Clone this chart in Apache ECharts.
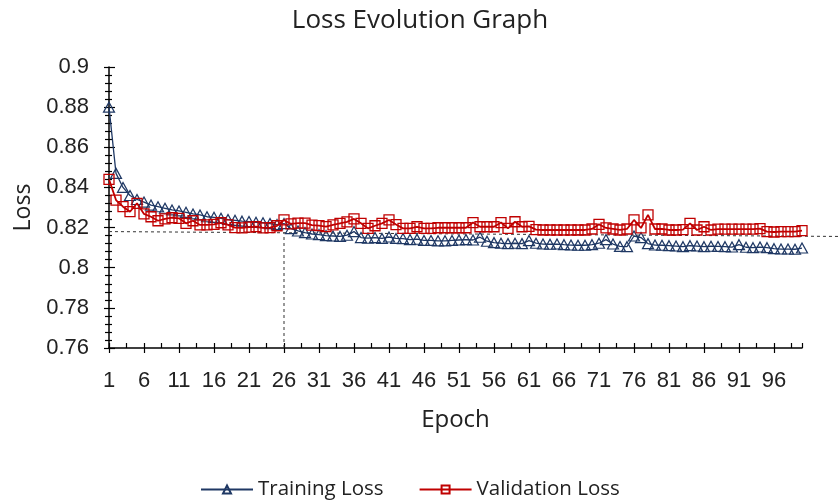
<!DOCTYPE html>
<html>
<head>
<meta charset="utf-8">
<script src="https://cdn.jsdelivr.net/npm/echarts@6/dist/echarts.min.js"></script>
<style>
  html, body { margin: 0; padding: 0; background: #fff; }
  #chart { width: 840px; height: 502px; }
</style>
</head>
<body>
<div id="chart"></div>
<script>
// epochs 1..100
const epochs = [];
for (let i = 1; i <= 100; i++) epochs.push(String(i));

const trainingLoss = [
  0.8800, 0.8470, 0.8400, 0.8360, 0.8340, 0.8327, 0.8312, 0.8304, 0.8296, 0.8288,
  0.8283, 0.8276, 0.8268, 0.8263, 0.8254, 0.8251, 0.8246, 0.8240, 0.8236, 0.8232,
  0.8230, 0.8226, 0.8224, 0.8220, 0.8215, 0.8220, 0.8195, 0.8183, 0.8175, 0.8168,
  0.8165, 0.8160, 0.8158, 0.8156, 0.8162, 0.8180, 0.8150, 0.8147, 0.8150, 0.8146,
  0.8153, 0.8146, 0.8145, 0.8140, 0.8142, 0.8136, 0.8136, 0.8134, 0.8134, 0.8136,
  0.8138, 0.8140, 0.8138, 0.8152, 0.8132, 0.8125, 0.8122, 0.8120, 0.8122, 0.8120,
  0.8135, 0.8122, 0.8118, 0.8117, 0.8118, 0.8115, 0.8113, 0.8112, 0.8112, 0.8115,
  0.8122, 0.8140, 0.8118, 0.8106, 0.8105, 0.8158, 0.8150, 0.8120, 0.8113, 0.8112,
  0.8110, 0.8108, 0.8105, 0.8110, 0.8108, 0.8105, 0.8107, 0.8106, 0.8105, 0.8103,
  0.8115, 0.8102, 0.8100, 0.8103, 0.8100, 0.8095, 0.8093, 0.8093, 0.8092, 0.8098
];

const validationLoss = [
  0.8440, 0.8337, 0.8304, 0.8279, 0.8321, 0.8268, 0.8254, 0.8234, 0.8243, 0.8249,
  0.8246, 0.8221, 0.8234, 0.8213, 0.8213, 0.8216, 0.8224, 0.8213, 0.8200, 0.8198,
  0.8202, 0.8205, 0.8198, 0.8200, 0.8209, 0.8238, 0.8218, 0.8222, 0.8222, 0.8212,
  0.8210, 0.8205, 0.8213, 0.8221, 0.8228, 0.8243, 0.8221, 0.8196, 0.8209, 0.8221,
  0.8238, 0.8215, 0.8196, 0.8196, 0.8204, 0.8196, 0.8196, 0.8199, 0.8199, 0.8199,
  0.8199, 0.8199, 0.8225, 0.8204, 0.8204, 0.8204, 0.8225, 0.8196, 0.8229, 0.8204,
  0.8206, 0.8190, 0.8188, 0.8188, 0.8188, 0.8188, 0.8188, 0.8188, 0.8188, 0.8193,
  0.8216, 0.8198, 0.8193, 0.8188, 0.8193, 0.8238, 0.8198, 0.8263, 0.8193, 0.8193,
  0.8188, 0.8188, 0.8190, 0.8221, 0.8188, 0.8204, 0.8188, 0.8192, 0.8192, 0.8192,
  0.8192, 0.8192, 0.8192, 0.8195, 0.8180, 0.8178, 0.8180, 0.8180, 0.8180, 0.8185
];

// dashed reference lines (loss level at first / last epoch, and elbow epoch)
const refLineStart = 0.8180;
const refLineEnd = 0.8157;
const elbowEpoch = 26;

const navy = '#1f3864';
const red = '#c00000';
const tickFont = '"Liberation Sans Narrow", "Arial Narrow", "Liberation Sans", sans-serif';
const textFont = '"Open Sans", "Noto Sans", sans-serif';

const chart = echarts.init(document.getElementById('chart'), null, { renderer: 'canvas' });

const option = {
  animation: false,
  backgroundColor: '#fff',
  title: {
    text: 'Loss Evolution Graph',
    left: 'center',
    top: 3,
    textStyle: { fontFamily: textFont, fontSize: 26, fontWeight: 'normal', color: '#222' }
  },
  legend: {
    top: 474,
    left: 195,
    itemWidth: 52,
    itemHeight: 10,
    itemGap: 35,
    textStyle: { fontFamily: textFont, fontSize: 20.5, color: '#222' },
    data: ['Training Loss', 'Validation Loss']
  },
  grid: { left: 109, right: 38, top: 67, bottom: 154, outerBoundsMode: 'none' },
  xAxis: [
    {
      type: 'category',
      data: epochs,
      boundaryGap: false,
      name: 'Epoch',
      nameLocation: 'middle',
      nameGap: 60,
      nameTextStyle: { fontFamily: textFont, fontSize: 24, color: '#222' },
      axisLine: { lineStyle: { color: '#000', width: 1.5 } },
      axisTick: { show: true, interval: 4, length: 5, lineStyle: { color: '#000', width: 1.2 } },
      axisLabel: { interval: 4, fontFamily: tickFont, fontSize: 22, color: '#222', margin: 22 },
      splitLine: { show: false }
    },
    {
      // extra tick row drawn upward every 2.5 epochs
      type: 'value',
      position: 'bottom',
      min: 0,
      max: 99,
      interval: 2.5,
      axisLine: { show: false },
      axisTick: { show: true, inside: true, length: 5, lineStyle: { color: '#000', width: 1.2 } },
      axisLabel: { show: false },
      splitLine: { show: false }
    }
  ],
  yAxis: [
    {
      type: 'value',
      min: 0.76,
      max: 0.9,
      interval: 0.02,
      name: 'Loss',
      nameLocation: 'middle',
      nameGap: 74,
      nameTextStyle: { fontFamily: textFont, fontSize: 23, color: '#222' },
      axisLine: { show: true, lineStyle: { color: '#000', width: 1.5 } },
      axisTick: { show: true, length: 5, lineStyle: { color: '#000', width: 1.2 } },
      minorTick: { show: true, splitNumber: 5, length: 4, lineStyle: { color: '#000', width: 1.2 } },
      axisLabel: { fontFamily: tickFont, fontSize: 22, color: '#222', margin: 20 },
      splitLine: { show: false }
    },
    {
      type: 'value',
      position: 'left',
      min: 0.76,
      max: 0.9,
      interval: 0.02,
      axisLine: { show: false },
      axisTick: { show: true, inside: true, length: 6, lineStyle: { color: '#000', width: 1.2 } },
      minorTick: { show: true, splitNumber: 5, length: 3, lineStyle: { color: '#000', width: 1.2 } },
      axisLabel: { show: false },
      splitLine: { show: false }
    }
  ],
  series: [
    {
      name: 'Training Loss',
      type: 'line',
      data: trainingLoss,
      symbol: 'triangle',
      symbolSize: [11, 10],
      showAllSymbol: true,
      lineStyle: { color: navy, width: 1.3 },
      itemStyle: { color: 'rgba(255,255,255,0)', borderColor: navy, borderWidth: 1.2 },
      z: 3
    },
    {
      name: 'Validation Loss',
      type: 'line',
      data: validationLoss,
      symbol: 'rect',
      symbolSize: 10,
      showAllSymbol: true,
      lineStyle: { color: red, width: 1.8 },
      itemStyle: { color: 'rgba(255,255,255,0)', borderColor: red, borderWidth: 1.3 },
      z: 4
    }
  ]
};

chart.setOption(option);

// dashed guide lines, placed through the axes' own scales
function drawGuides() {
  const p0 = chart.convertToPixel({ xAxisIndex: 0, yAxisIndex: 0 }, [0, refLineStart]);
  const p1 = chart.convertToPixel({ xAxisIndex: 0, yAxisIndex: 0 }, [epochs.length - 1, refLineEnd]);
  const w = chart.getWidth();
  const slope = (p1[1] - p0[1]) / (p1[0] - p0[0]);
  const endY = p0[1] + slope * (w - p0[0]);
  const xe = chart.convertToPixel({ xAxisIndex: 0 }, elbowEpoch - 1);
  const yBase = chart.convertToPixel({ yAxisIndex: 0 }, 0.76);
  const yTop = p0[1] + slope * (xe - p0[0]);
  const dash = { stroke: '#333', lineWidth: 1, lineDash: [3, 3] };
  chart.setOption({
    graphic: [
      { type: 'line', z: 1, silent: true, shape: { x1: p0[0], y1: p0[1], x2: w, y2: endY }, style: dash },
      { type: 'line', z: 1, silent: true, shape: { x1: xe, y1: yBase, x2: xe, y2: yTop }, style: dash }
    ]
  });
}
drawGuides();
</script>
</body>
</html>
